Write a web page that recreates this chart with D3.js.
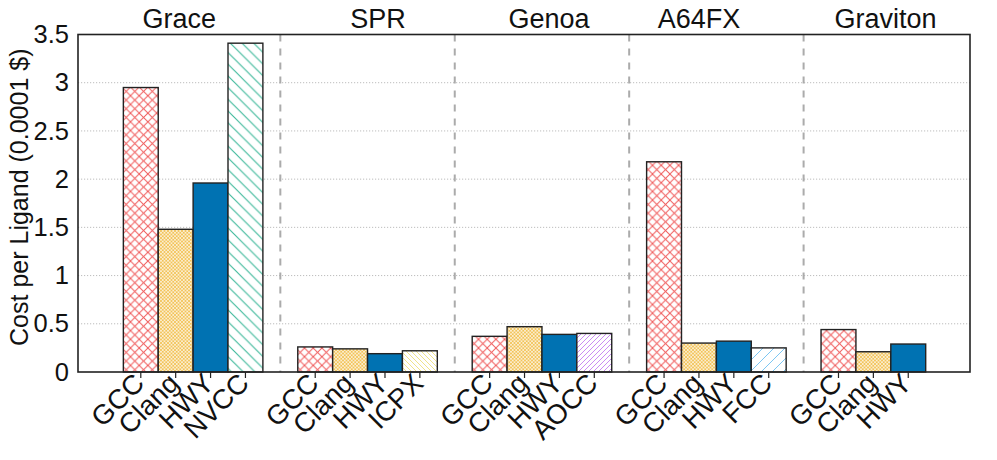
<!DOCTYPE html>
<html>
<head>
<meta charset="utf-8">
<script src="https://cdn.jsdelivr.net/npm/d3@7"></script>
<style>
  html, body { margin: 0; padding: 0; background: #fff; }
  svg { display: block; font-family: "Liberation Sans", Arial, sans-serif; }
</style>
</head>
<body>
<svg id="chart" width="997" height="460"></svg>
<script>
// ---- data ----
const platforms = ["Grace", "SPR", "Genoa", "A64FX", "Graviton"];
const graceCompilers = ["GCC", "Clang", "HWY", "NVCC"];
const sprCompilers = ["GCC", "Clang", "HWY", "ICPX"];
const genoaCompilers = ["GCC", "Clang", "HWY", "AOCC"];
const a64fxCompilers = ["GCC", "Clang", "HWY", "FCC"];
const gravitonCompilers = ["GCC", "Clang", "HWY"];
const graceCost = [2.95, 1.48, 1.96, 3.41];
const sprCost = [0.26, 0.24, 0.19, 0.22];
const genoaCost = [0.37, 0.47, 0.39, 0.40];
const a64fxCost = [2.18, 0.30, 0.32, 0.25];
const gravitonCost = [0.44, 0.21, 0.29];
const yTicks = [0, 0.5, 1, 1.5, 2, 2.5, 3, 3.5];
const yLabel = "Cost per Ligand (0.0001 $)";

const compilerSets = [graceCompilers, sprCompilers, genoaCompilers, a64fxCompilers, gravitonCompilers];
const costSets = [graceCost, sprCost, genoaCost, a64fxCost, gravitonCost];

// ---- layout ----
const W = 997, H = 460;
const pLeft = 78, pRight = 970, pTop = 34.5, pBottom = 372;
const slotsPerGroup = 5;
const labelSlot = [1.6, 7.3, 12.2, 16.5, 21.85];

const svg = d3.select("#chart");
svg.append("rect").attr("width", W).attr("height", H).attr("fill", "#fff");

const x = d3.scaleLinear().domain([-1.3, 24.27]).range([pLeft, pRight]);
const y = d3.scaleLinear().domain([0, 3.5]).range([pBottom, pTop]);

// ---- patterns ----
const defs = svg.append("defs");
function hatch(id, size, color, dirs, sw) {
  const p = defs.append("pattern").attr("id", id)
    .attr("patternUnits", "userSpaceOnUse").attr("width", size).attr("height", size);
  p.append("rect").attr("width", size).attr("height", size).attr("fill", "#fff");
  dirs.forEach(d => {
    if (d === "/") {
      p.append("path").attr("d", `M0,${size} L${size},0 M${-size/2},${size/2} L${size/2},${-size/2} M${size/2},${size*1.5} L${size*1.5},${size/2}`)
        .attr("stroke", color).attr("stroke-width", sw);
    } else {
      p.append("path").attr("d", `M0,0 L${size},${size} M${-size/2},${size/2} L${size/2},${size*1.5} M${size/2},${-size/2} L${size*1.5},${size/2}`)
        .attr("stroke", color).attr("stroke-width", sw);
    }
  });
}
hatch("pGCC", 8.7, "#f05a5a", ["/", "\\"], 1);
hatch("pClang", 3.5, "#f2c050", ["/", "\\"], 0.9);
hatch("pNVCC", 11.7, "#3cb89a", ["\\"], 1.1);
hatch("pICPX", 5, "#f0e28a", ["\\"], 1);
hatch("pAOCC", 5, "#c98cf2", ["/"], 1);
hatch("pFCC", 11, "#7cc6f2", ["/"], 1);

const fills = {
  GCC: "url(#pGCC)", Clang: "url(#pClang)", HWY: "#0072b2",
  NVCC: "url(#pNVCC)", ICPX: "url(#pICPX)", AOCC: "url(#pAOCC)", FCC: "url(#pFCC)"
};

// ---- gridlines ----
svg.append("g").selectAll("line").data(yTicks.filter(t => t > 0 && t < 3.5)).join("line")
  .attr("x1", pLeft).attr("x2", pRight)
  .attr("y1", d => y(d)).attr("y2", d => y(d))
  .attr("stroke", "#bdbdbd").attr("stroke-width", 1).attr("stroke-dasharray", "1.2,1.8");

// ---- separators ----
svg.append("g").selectAll("line").data(d3.range(1, platforms.length)).join("line")
  .attr("x1", d => x(d * slotsPerGroup - 0.5)).attr("x2", d => x(d * slotsPerGroup - 0.5))
  .attr("y1", pTop).attr("y2", pBottom)
  .attr("stroke", "#ababab").attr("stroke-width", 2).attr("stroke-dasharray", "7,7");

// ---- bars ----
const bars = [];
compilerSets.forEach((cs, g) => cs.forEach((c, j) => bars.push({ g, j, c, v: costSets[g][j], s: g * slotsPerGroup + j })));

svg.append("g").selectAll("rect").data(bars).join("rect")
  .attr("x", d => x(d.s)).attr("width", d => x(d.s + 1) - x(d.s))
  .attr("y", d => y(d.v)).attr("height", d => y(0) - y(d.v))
  .attr("fill", d => fills[d.c])
  .attr("stroke", "#222").attr("stroke-width", 1.4);

// ---- axes frame ----
svg.append("rect").attr("x", pLeft).attr("y", pTop).attr("width", pRight - pLeft).attr("height", pBottom - pTop)
  .attr("fill", "none").attr("stroke", "#222").attr("stroke-width", 1.6);

// y axis
const yAxis = d3.axisLeft(y).tickValues(yTicks).tickSize(0).tickPadding(9).tickFormat(d3.format("~g"));
const ya = svg.append("g").attr("transform", `translate(${pLeft},0)`).call(yAxis);
ya.select(".domain").remove();
ya.selectAll("text").attr("font-size", 25.5).attr("fill", "#111")
  .attr("font-family", '"Liberation Sans", Arial, sans-serif');

// x ticks + labels
const xt = svg.append("g");
xt.selectAll("line").data(bars).join("line")
  .attr("x1", d => x(d.s + 0.5)).attr("x2", d => x(d.s + 0.5))
  .attr("y1", pBottom).attr("y2", pBottom + 6)
  .attr("stroke", "#222").attr("stroke-width", 1.2);
xt.selectAll("text").data(bars).join("text")
  .attr("transform", d => `translate(${x(d.s + 0.5) + 5},${pBottom + 13}) rotate(-45)`)
  .attr("text-anchor", "end")
  .attr("font-size", 27.5).attr("fill", "#111")
  .text(d => d.c);

// platform labels
svg.append("g").selectAll("text").data(platforms).join("text")
  .attr("x", (d, i) => x(labelSlot[i])).attr("y", 28)
  .attr("text-anchor", "middle").attr("font-size", 27).attr("fill", "#111")
  .text(d => d);

// y label
svg.append("text")
  .attr("transform", `translate(28,${(pTop + pBottom) / 2 - 6}) rotate(-90)`)
  .attr("text-anchor", "middle").attr("font-size", 25).attr("fill", "#111")
  .text(yLabel);
</script>
</body>
</html>
